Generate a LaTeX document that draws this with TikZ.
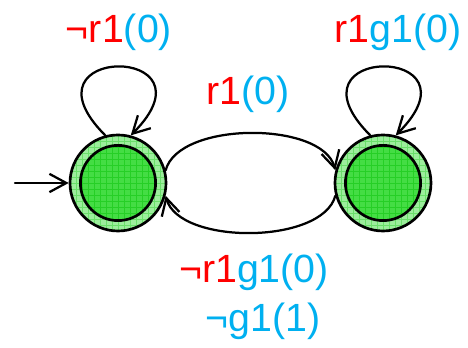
\documentclass[tikz,border=0pt]{standalone}
\usepackage{fontspec}
\setmainfont{Liberation Sans}
\usetikzlibrary{arrows.meta}

\tikzset{
  checkfill/.style 2 args={fill=#1, path picture={
      \draw[#2, line width=0.35pt, step=0.15]
        (path picture bounding box.south west) grid (path picture bounding box.north east);}},
  state/.style={circle, draw, line width=1.9pt, minimum size=2.4cm, inner sep=0pt,
    checkfill={ringgreen}{ringgrid}},
  inner state/.style={circle, draw, line width=1.9pt, minimum size=1.88cm, inner sep=0pt,
    checkfill={coregreen}{coregrid}},
  lbl/.style={anchor=base, inner sep=0pt, font=\fontsize{28}{33}\selectfont},
}

\begin{document}
\begin{tikzpicture}[>={Straight Barb[length=12pt, width=13pt]}, line cap=round, line join=round]
    \definecolor{ringgreen}{HTML}{9CEE9C}
    \definecolor{ringgrid}{HTML}{6ADF6A}
    \definecolor{coregreen}{HTML}{44DD44}
    \definecolor{coregrid}{HTML}{26CF26}
    \definecolor{sigred}{HTML}{FF0000}
    \definecolor{outblue}{HTML}{00B0F0}

    \useasboundingbox (0, 0) rectangle (11.7, 8.7);

    % --- the two states, each a ring round a core
    \node[state] (qzero) at (2.95, 4.125) {};
    \node[inner state] (qzeroin) at (qzero) {};
    \node[state] (qone) at (9.575, 4.125) {};
    \node[inner state] (qonein) at (qone) {};

    % --- initial arrow
    \coordinate (start) at (0.375, 4.125);
    \draw[->, line width=1.6pt] (start) -- (qzero);

    % --- self loops
    \draw[->, line width=1.6pt] (qzero.105) to[out=135, in=45, looseness=13] (qzero.75);
    \draw[->, line width=1.6pt] (qone.105) to[out=135, in=45, looseness=13] (qone.75);

    % --- the two arcs between the states
    \draw[->, line width=1.6pt] (qzero.15) to[out=75, in=105, looseness=0.77] (qone.165);
    \draw[->, line width=1.6pt] (qone.195) to[out=-105, in=-75, looseness=0.77] (qzero.-15);

    % --- guards (red) and outputs (blue)
    \node[lbl] (lblzero) at (2.975, 7.625)
      {\textcolor{sigred}{¬r1}\textcolor{outblue}{(0)}};
    \node[lbl] (lblone) at (9.95, 7.625)
      {\textcolor{sigred}{r1}\textcolor{outblue}{g1(0)}};
    \node[lbl] (lblup) at (6.2, 6.075)
      {\textcolor{sigred}{r1}\textcolor{outblue}{(0)}};
    \node[lbl] (lbldown) at (6.35, 1.625)
      {\textcolor{sigred}{¬r1}\textcolor{outblue}{g1(0)}};
    \node[lbl] (lbldowntwo) at (6.575, 0.4)
      {\textcolor{outblue}{¬g1(1)}};
  \end{tikzpicture}
\end{document}
